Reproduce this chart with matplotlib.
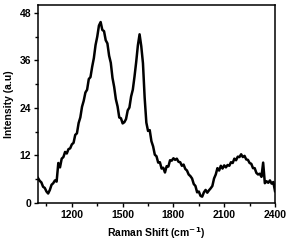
import matplotlib
matplotlib.use("Agg")
import matplotlib.pyplot as plt
from matplotlib.ticker import MultipleLocator

# Raman spectrum (cm-1, a.u.)
shift = list(range(1000, 2401, 10))
intensity = [
    6.3, 5.6, 5.2, 4.1, 3.8, 2.9, 2.4, 3.3, 4.6, 5.0,
    5.7, 5.4, 10.1, 9.0, 11.2, 11.6, 12.9, 12.5, 13.6, 13.8,
    14.8, 15.2, 17.2, 17.6, 20.2, 21.6, 24.3, 25.8, 27.9, 28.6,
    31.3, 31.8, 34.4, 36.6, 39.9, 42.0, 44.8, 45.7, 43.7, 43.4,
    41.1, 40.3, 37.2, 35.4, 31.6, 29.3, 26.2, 24.4, 21.6, 21.4,
    20.1, 20.4, 21.2, 23.4, 24.1, 26.9, 28.6, 31.9, 35.6, 39.8,
    42.6, 39.6, 35.3, 26.6, 20.3, 18.2, 18.4, 15.6, 14.3, 12.2,
    11.8, 10.2, 10.3, 8.7, 8.9, 7.7, 9.3, 9.2, 10.8, 10.7,
    11.3, 10.9, 11.2, 10.4, 10.3, 9.4, 9.7, 8.6, 8.2, 7.2,
    6.8, 6.2, 4.8, 4.3, 2.7, 2.9, 1.8, 1.6, 2.7, 3.3,
    2.6, 3.2, 3.7, 4.3, 6.2, 7.2, 8.8, 8.2, 9.4, 8.7,
    9.5, 9.0, 9.6, 9.4, 10.3, 10.1, 11.2, 10.8, 11.7, 11.6,
    12.3, 11.6, 11.9, 11.0, 10.9, 10.1, 9.9, 8.8, 8.8, 7.6,
    7.2, 7.4, 6.6, 10.2, 5.0, 5.5, 5.1, 5.7, 4.9, 5.3,
    3.0,
]

plt.rcParams['font.family'] = ['Liberation Sans', 'DejaVu Sans']
plt.rcParams['font.stretch'] = 'normal'
plt.rcParams['font.weight'] = 'bold'

fig = plt.figure(figsize=(2.98, 2.45), dpi=100)
ax = fig.add_axes([38 / 298, 42 / 245, 237 / 298, 198 / 245])

ax.plot(shift, intensity, color='black', linewidth=1.8)

ax.set_xlim(1000, 2400)
ax.set_ylim(0, 50)
ax.xaxis.set_major_locator(MultipleLocator(300))
ax.xaxis.set_minor_locator(MultipleLocator(150))
ax.yaxis.set_major_locator(MultipleLocator(12))
ax.yaxis.set_minor_locator(MultipleLocator(6))
ax.set_xticks([1200, 1500, 1800, 2100, 2400])

ax.tick_params(which='major', direction='out', length=3, width=1, labelsize=7.5, pad=2)
ax.tick_params(which='minor', direction='out', length=2, width=1)
for s in ax.spines.values():
    s.set_linewidth(1.1)
for lab in ax.get_xticklabels() + ax.get_yticklabels():
    lab.set_fontweight('bold')

ax.set_xlabel('Raman Shift (cm$^{\\mathbf{-1}}$)', fontsize=7.5, fontweight='bold', labelpad=4)
ax.set_ylabel('Intensity (a.u)', fontsize=7.5, fontweight='bold', labelpad=4)

fig.savefig('out.png', dpi=100)
